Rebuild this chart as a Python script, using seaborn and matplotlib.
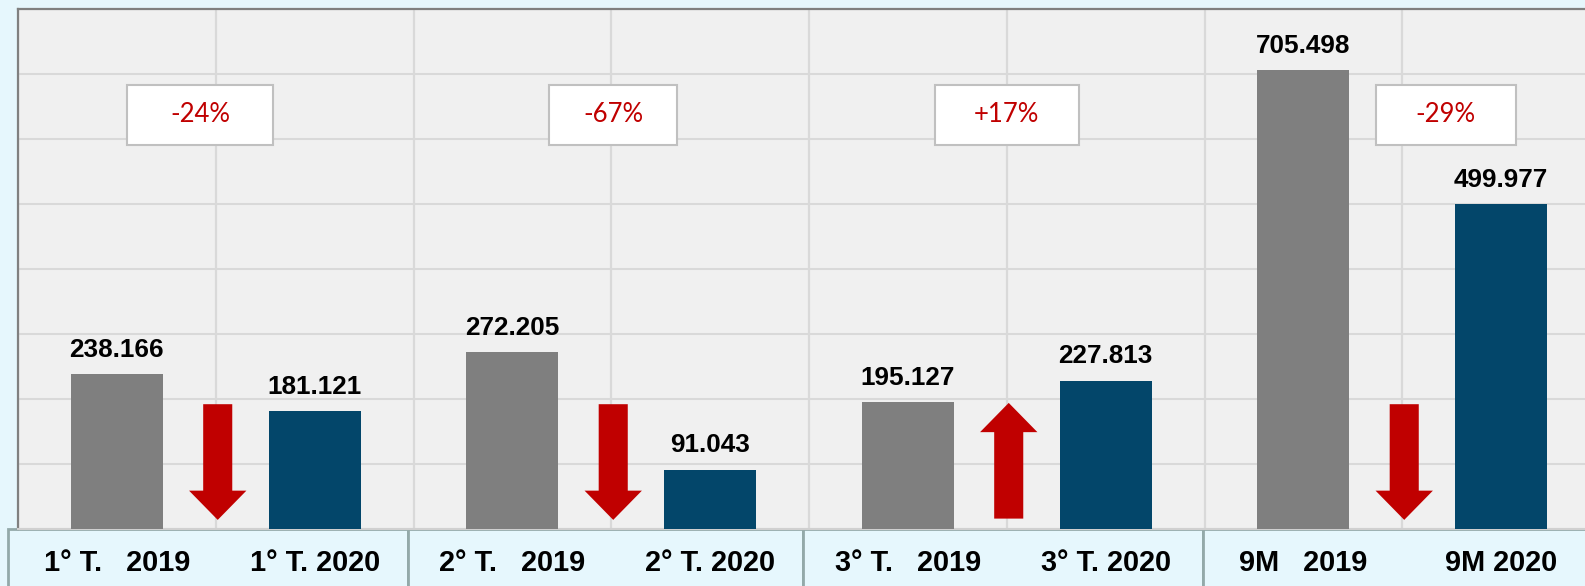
import pandas as pd
import matplotlib
import matplotlib.pyplot as plt
import matplotlib.transforms as mtransforms
from matplotlib.patches import Rectangle
import seaborn as sns

# data
categories = ['1° T.   2019', '1° T. 2020', '2° T.   2019', '2° T. 2020',
              '3° T.   2019', '3° T. 2020', '9M   2019', '9M 2020']
years = ['2019', '2020', '2019', '2020', '2019', '2020', '2019', '2020']
values = [238166, 181121, 272205, 91043, 195127, 227813, 705498, 499977]

# layout of the change boxes (offset from pair centre, width in categories)
box_dx = [-0.08, 0.01, 0.0, 0.22]
box_w = [0.74, 0.65, 0.73, 0.71]

grey = '#7f7f7f'
blue = '#03466a'
red = '#c00000'
bg = '#e6f7fd'

df = pd.DataFrame({'cat': categories, 'year': years, 'value': values})

sns.set_style('white')
plt.rcParams['font.family'] = ['Liberation Sans', 'DejaVu Sans']

fig = plt.figure(figsize=(15.85, 5.86), dpi=100)
fig.patch.set_facecolor(bg)
ax = fig.add_axes([18/1585, 57/586, 1582/1585, 520/586])
ax.set_facecolor('#f0f0f0')

sns.barplot(data=df, x='cat', y='value', hue='year', dodge=False,
            palette={'2019': grey, '2020': blue}, width=0.465,
            saturation=1, legend=False, ax=ax, zorder=3, linewidth=0)

ax.set_xlim(-0.5, 7.5)
ax.set_ylim(0, 800000)
ax.set_yticks(range(0, 800001, 100000))
ax.set_xticks([i + 0.5 for i in range(-1, 8)], minor=True)
ax.grid(True, axis='y', color='#d9d9d9', lw=1.5, zorder=0)
ax.grid(True, axis='x', which='minor', color='#d9d9d9', lw=1.6, zorder=0)
ax.set_axisbelow(True)
ax.tick_params(axis='y', left=False, labelleft=False)
ax.tick_params(axis='x', which='both', bottom=False, labelbottom=False)
ax.set_xlabel('')
ax.set_ylabel('')
for s in ['left', 'top']:
    ax.spines[s].set_color('#808080')
    ax.spines[s].set_linewidth(1.6)
ax.spines['bottom'].set_color('#d0d0d0')
ax.spines['bottom'].set_linewidth(1.5)
ax.spines['right'].set_visible(False)

# value labels
for c in ax.containers:
    labs = ['' if b.get_height() != b.get_height() else f"{int(round(b.get_height())):,}".replace(',', '.')
            for b in c]
    ax.bar_label(c, labels=labs, padding=9, fontsize=18.8, fontweight='bold', color='black')

# category boxes below the axis
trans = mtransforms.blended_transform_factory(ax.transData, ax.transAxes)
edges = [-0.55, 1.47, 3.47, 5.49, 7.6]
for k in range(4):
    ax.add_patch(Rectangle((edges[k], -0.2), edges[k+1] - edges[k], 0.2, transform=trans,
                           facecolor=bg, edgecolor='#93a9a9', lw=2, clip_on=False, zorder=1))
for i, lab in enumerate(categories):
    ax.text(i, -0.066, lab, transform=trans, ha='center', va='center',
            fontsize=20.8, fontweight='bold', color='black', clip_on=False)

# change arrows and percentage boxes
for k in range(4):
    v0, v1 = values[2*k], values[2*k+1]
    ch = v1 / v0 - 1
    xa = 2*k + 0.51
    if ch < 0:
        ax.arrow(xa, 192000, 0, -178000, width=0.147, head_width=0.29, head_length=45000,
                 length_includes_head=True, color=red, lw=0, zorder=4)
    else:
        ax.arrow(xa, 16000, 0, 178000, width=0.147, head_width=0.29, head_length=45000,
                 length_includes_head=True, color=red, lw=0, zorder=4)
    xc = 2*k + 0.5 + box_dx[k]
    ax.add_patch(Rectangle((xc - box_w[k]/2, 591000), box_w[k], 92000, facecolor='white',
                           edgecolor='#c0c0c0', lw=1.5, zorder=5))
    ax.text(xc, 637000, f"{ch*100:+.0f}%", ha='center', va='center', fontsize=18.5,
            color=red, family=['Lato', 'DejaVu Sans'], zorder=6)

fig.savefig('out.png', dpi=100, facecolor=bg)
